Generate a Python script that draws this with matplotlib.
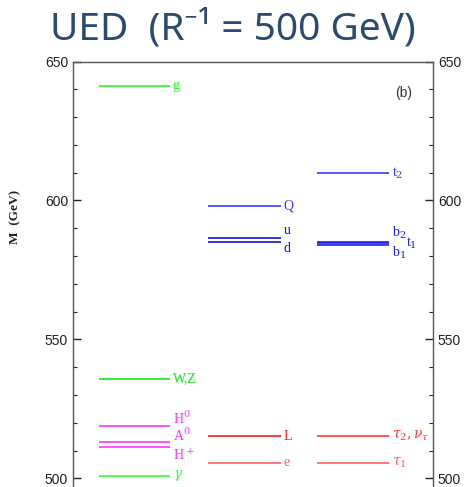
"""Recreate the UED (R^-1 = 500 GeV) KK mass spectrum chart."""

import matplotlib
matplotlib.use("Agg")
import matplotlib.pyplot as plt
from matplotlib.ticker import MultipleLocator

plt.rcParams.update({
    "mathtext.fontset": "dejavuserif",
    "font.family": ["Liberation Sans", "DejaVu Sans"],
})

# --- data: (label, mass in GeV) per column ---
col1_labels = ["g", "W,Z", r"H$^0$", r"A$^0$", r"H$^+$", r"$\gamma$"]
col1_mass = [641.2, 535.8, 519.0, 513.1, 511.4, 501.0]
col1_colors = ["#22ff22", "#11ee11", "#ff33ff", "#ff33ff", "#ff33ff", "#33ff33"]

col2_labels = ["Q", "u", "d", "L", "e"]
col2_mass = [598.1, 586.6, 585.1, 515.2, 505.7]
col2_colors = ["#3a3aff", "#1010d8", "#1010d8", "#ff1a1a", "#ff6060"]

col3_labels = [r"t$_2$", r"b$_2$", r"t$_1$", r"b$_1$", r"$\tau_2,\nu_\tau$", r"$\tau_1$"]
col3_mass = [609.9, 585.2, 584.6, 584.0, 515.2, 505.7]
col3_colors = ["#3a3aff", "#2020ee", "#2020ee", "#2020ee", "#ff3a3a", "#ff6060"]

yticks = [500, 550, 600, 650]

# styling: x-span of each column and per-label offsets (points)
spans = [(0.72, 2.69), (3.74, 5.77), (6.77, 8.78)]
offsets = [
    [(2, 0), (2, 0), (2, 5), (2, 5), (2, -6), (2, 0)],
    [(2, 0), (2, 5), (2, -5), (2, 0), (2, 0)],
    [(2, 0), (2, 6), (12, 0), (2, -6), (2, 0), (2, 0)],
]

fig = plt.figure(figsize=(4.65, 4.87), dpi=100)
ax = fig.add_axes([0.157, -0.0965, 0.774, 0.9702])
ax.set_xlim(0, 10)
ax.set_ylim(480, 650)

columns = [
    (col1_labels, col1_mass, col1_colors),
    (col2_labels, col2_mass, col2_colors),
    (col3_labels, col3_mass, col3_colors),
]
for (labels, masses, colors), (x0, x1), offs in zip(columns, spans, offsets):
    for lab, m, c, (dx, dy) in zip(labels, masses, colors, offs):
        ax.plot([x0, x1], [m, m], color=c, lw=1.2, solid_capstyle="butt")
        ax.annotate(lab, (x1, m), xytext=(dx, dy), textcoords="offset points",
                    ha="left", va="center", color=c, fontsize=10,
                    family="Liberation Serif")

ax.set_xticks([])
ax.set_yticks(yticks)
ax.yaxis.set_minor_locator(MultipleLocator(10))
ax.tick_params(axis="y", which="both", direction="in", left=True, right=True,
               labelleft=True, labelright=True, labelsize=10, colors="#222222")
ax.tick_params(axis="y", which="major", length=6, width=1)
ax.tick_params(axis="y", which="minor", length=3, width=0.8)
ax.spines["bottom"].set_visible(False)
for s in ("left", "right", "top"):
    ax.spines[s].set_color("#555555")
    ax.spines[s].set_linewidth(1.0)

ax.text(9.2, 638.5, "(b)", ha="center", va="center", fontsize=10, color="#333333")

fig.text(0.032, 0.555, "M  (GeV)", rotation=90, ha="center", va="center",
         fontsize=9.5, family="Liberation Serif", fontweight="bold", color="#222222")

fig.text(0.5, 0.94, "UED  (R⁻¹ = 500 GeV)", ha="center", va="center", fontsize=28,
         color="#2b4a6f", family=["Noto Sans", "DejaVu Sans"])

fig.savefig("out.png", dpi=100)
